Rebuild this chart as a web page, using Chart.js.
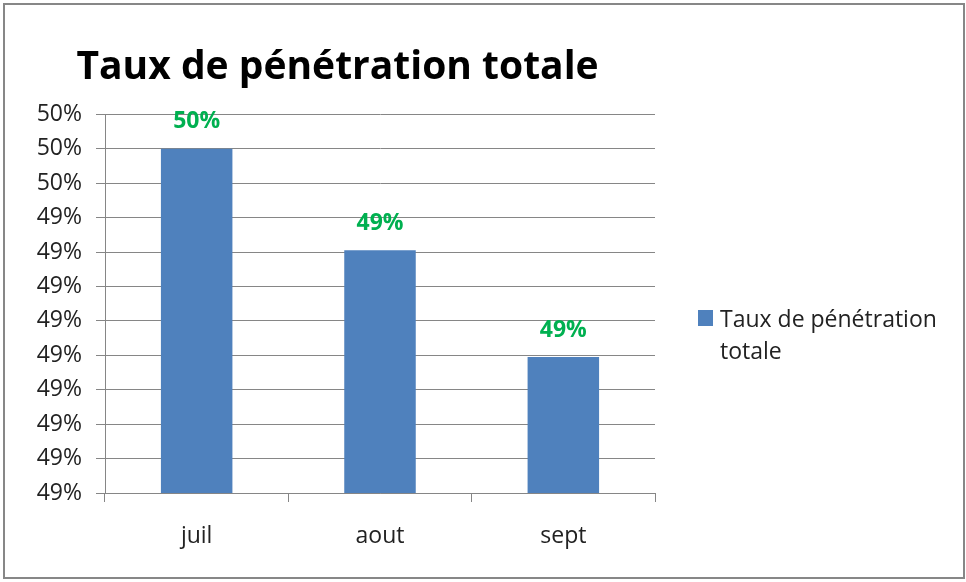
<!DOCTYPE html>
<html>
<head>
<meta charset="utf-8">
<script src="https://cdn.jsdelivr.net/npm/chart.js@4"></script>
<style>
  body { margin: 0; background: #fff; font-family: "Open Sans", sans-serif; }
  #wrap { position: relative; width: 966px; height: 582px; }
  #frame { position: absolute; left: 3px; top: 3px; width: 958px; height: 572px; border: 2px solid #878787; pointer-events: none; }
  canvas { position: absolute; left: 0; top: 0; }
  #legend { position: absolute; left: 698px; top: 302px; display: flex; align-items: flex-start; }
  #legend .box { width: 15px; height: 16px; margin-top: 8px; margin-right: 7px; }
  #legend .txt { width: 236px; font-size: 23px; line-height: 32px; color: #222; }
</style>
</head>
<body>
<div id="wrap">
  <canvas id="chart" width="966" height="582"></canvas>
  <div id="legend"></div>
  <div id="frame"></div>
</div>
<script>
// data
const months = ['juil', 'aout', 'sept'];
const penetration = [0.4952, 0.49461, 0.49399];
const seriesName = 'Taux de pénétration totale';
const barColor = '#4f81bd';
const labelColor = '#00b050';

const yMin = 0.4932;
const yMax = 0.4954;
const yStep = 0.0002;

const pct = v => Math.round(v * 100 + 1e-6) + '%';
const FONT = '"Open Sans", sans-serif';

// green value labels above each bar
const valueLabels = {
    id: 'valueLabels',
    afterDatasetsDraw(chart) {
        const ctx = chart.ctx;
        const meta = chart.getDatasetMeta(0);
        ctx.save();
        ctx.font = 'bold 23px ' + FONT;
        ctx.fillStyle = labelColor;
        ctx.textAlign = 'center';
        ctx.textBaseline = 'middle';
        meta.data.forEach((bar, i) => {
            ctx.fillText(pct(penetration[i]), bar.x, bar.y - 27);
        });
        ctx.restore();
    }
};

const chart = new Chart(document.getElementById('chart'), {
    type: 'bar',
    data: {
        labels: months,
        datasets: [{
            label: seriesName,
            data: penetration,
            backgroundColor: barColor,
            categoryPercentage: 1,
            barPercentage: 0.39
        }]
    },
    options: {
        responsive: false,
        animation: false,
        layout: { padding: { left: 20, right: 311, top: 0, bottom: 29 } },
        plugins: {
            legend: { display: false },
            tooltip: { enabled: false },
            title: {
                display: true,
                text: seriesName,
                color: '#000',
                font: { family: FONT, size: 39, weight: 'bold' },
                padding: { top: 44, bottom: 23.6 }
            }
        },
        scales: {
            x: {
                afterFit: s => { s.height = 60; },
                grid: { drawOnChartArea: false, drawTicks: true, tickLength: 9, color: '#868686', offset: true },
                border: { color: '#868686' },
                ticks: { color: '#222', font: { family: FONT, size: 23 }, padding: 21 }
            },
            y: {
                min: yMin,
                max: yMax,
                afterFit: s => { s.width = 85; },
                grid: { color: '#868686', tickLength: 9 },
                border: { color: '#868686' },
                ticks: {
                    stepSize: yStep,
                    color: '#222',
                    font: { family: FONT, size: 23 },
                    padding: 14,
                    callback: v => pct(v)
                }
            }
        }
    },
    plugins: [valueLabels]
});

// legend built from the dataset
const legend = document.getElementById('legend');
chart.data.datasets.forEach(ds => {
    const box = document.createElement('div');
    box.className = 'box';
    box.style.background = ds.backgroundColor;
    const txt = document.createElement('div');
    txt.className = 'txt';
    txt.textContent = ds.label;
    legend.appendChild(box);
    legend.appendChild(txt);
});
</script>
</body>
</html>
